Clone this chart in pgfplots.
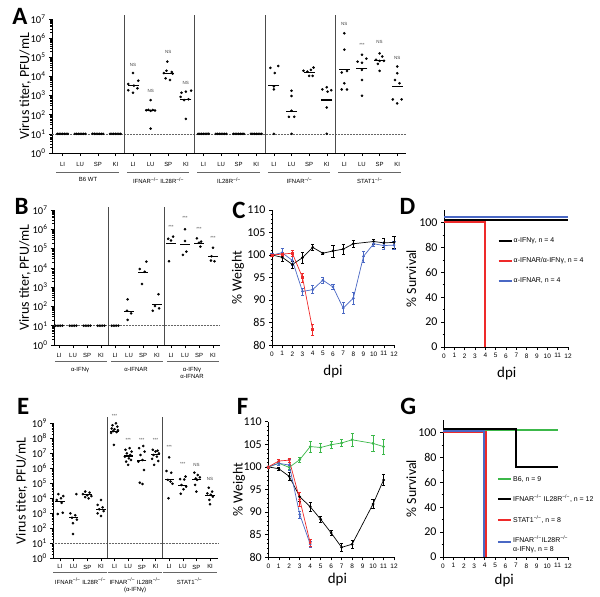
\documentclass[border=0pt]{standalone}
\usepackage{pgfplots}
\pgfplotsset{compat=1.18}
\usepackage{fontspec}
\setmainfont{Carlito}
\newfontfamily\arial{Liberation Sans}
\newcommand{\ko}{\textsuperscript{−/−}}
\definecolor{cred}{HTML}{EE2A2A}
\definecolor{cblue}{HTML}{4A68C4}
\definecolor{cgreen}{HTML}{3CB84A}
\pgfkeys{/pgf/number format/assume math mode=true}
\tikzset{
  pstat/.style={font=\arial\fontsize{4.5}{4.5}\selectfont, text=black!75},
  pgrp/.style={font=\arial\fontsize{6}{7}\selectfont, align=center, anchor=north},
  psep/.style={line width=0.7bp, black!70},
  plod/.style={densely dotted, line width=0.5bp, black!60},
  pgline/.style={line width=0.5bp, black!60},
  pletter/.style={font=\bfseries\fontsize{25}{25}\selectfont},
}
\begin{document}
\begin{tikzpicture}
\path[use as bounding box] (0,0) rectangle (600bp,-597bp);

% ---------------- A ----------------
\begin{axis}[at={(52bp,-153bp)}, anchor=south west, scale only axis,
  width=354bp, height=134bp, clip=false,
  axis lines=left, axis line style={-, line width=0.7bp},
  tick align=outside, major tick length=3bp, minor tick length=1.5bp,
  tick style={line width=0.5bp, black},
  ymode=log, ymin=1, ymax=1e7, xmin=-0.6, xmax=19.5,
  ytick={1,10,100,1000,10000,100000,1000000,10000000},
  yticklabels={10\textsuperscript{0},10\textsuperscript{1},10\textsuperscript{2},10\textsuperscript{3},10\textsuperscript{4},10\textsuperscript{5},10\textsuperscript{6},10\textsuperscript{7}},
  xtick={0,...,19},
  xticklabels={LI,LU,SP,KI,LI,LU,SP,KI,LI,LU,SP,KI,LI,LU,SP,KI,LI,LU,SP,KI},
  xticklabel style={font=\arial\fontsize{6}{6}\selectfont, yshift=-3bp},
  yticklabel style={font=\fontsize{10.5}{10}\selectfont},
  ylabel={Virus titer, PFU/mL},
  ylabel style={font=\fontsize{14}{14}\selectfont, anchor=center, at={(axis description cs:-0.076,0.5)}}]
\addplot[only marks, mark=*, mark size=1.1bp, black] coordinates {
 (-0.3,10)(-0.2,10)(-0.1,10)(0,10)(0.1,10)(0.2,10)(0.3,10)
 (0.7,10)(0.8,10)(0.9,10)(1,10)(1.1,10)(1.2,10)(1.3,10)
 (1.7,10)(1.8,10)(1.9,10)(2,10)(2.1,10)(2.2,10)(2.3,10)
 (2.7,10)(2.8,10)(2.9,10)(3,10)(3.1,10)(3.2,10)(3.3,10)
 (7.7,10)(7.8,10)(7.9,10)(8,10)(8.1,10)(8.2,10)(8.3,10)
 (8.7,10)(8.8,10)(8.9,10)(9,10)(9.1,10)(9.2,10)(9.3,10)
 (9.7,10)(9.8,10)(9.9,10)(10,10)(10.1,10)(10.2,10)(10.3,10)
 (10.7,10)(10.8,10)(10.9,10)(11,10)(11.1,10)(11.2,10)(11.3,10)
 (4,1.5e4)(4.3,6e3)(3.73,4e3)(4.05,3.3e3)(4.25,2.4e3)(3.73,1.9e3)(4,1.4e3)
 (5,580)(4.75,170)(4.87,180)(5,160)(5.12,175)(5.25,165)(5,19)
 (5.95,6e4)(5.9,2e4)(6.2,1.7e4)(5.75,1.5e4)(6.25,1.4e4)(5.85,8e3)(6.1,6.5e3)
 (6.75,1.4e3)(7,1.6e3)(7.3,1.8e3)(6.7,850)(7.15,650)(6.9,580)(7,60)
 (11.8,2.8e4)(12.25,3.5e4)(12.05,1.5e4)(12,3e3)(12,2.1e3)(12,10)
 (13,1.8e3)(13,950)(13,160)(12.85,78)(13.15,78)(13,10)
 (13.68,2e4)(13.9,1.8e4)(14.1,2.2e4)(14.25,2.9e4)(14,1.07e4)(14.2,1.07e4)
 (15,2.7e3)(14.75,2.1e3)(15.25,1.9e3)(15.05,1.6e3)(15,240)(15,10)
 (16,1.8e6)(16,2.5e5)(15.85,1.6e4)(16.15,1.9e4)(16,4.4e3)(15.85,2.1e3)(16.15,2.1e3)
 (17,1.35e5)(16.75,5.9e4)(17,5.2e4)(17.25,8.5e4)(17,2.2e4)(17,6.5e3)(17,980)
 (18,1.6e5)(18.15,1.1e5)(17.8,7.4e4)(18,6.5e4)(18.25,6.5e4)(17.9,4.5e4)(18,1.95e4)
 (19,3.3e4)(19,1.46e4)(18.87,6.5e3)(19.13,4.4e3)(18.75,630)(19.25,630)(19,390)
};
\addplot[only marks, mark=-, mark size=5.5bp, black, mark options={line width=1.1bp}] coordinates {
 (4,3.4e3)(5,170)(6,1.5e4)(7,650)(12,3.3e3)(13,155)(14,1.6e4)(15,590)
 (16,2.2e4)(17,2.5e4)(18,6.5e4)(19,2.9e3)};
\draw[plod] (axis cs:-0.6,10) -- (axis cs:19.5,10);
\draw[psep] (axis cs:3.5,1) -- (axis cs:3.5,1.6e7);
\draw[psep] (axis cs:7.5,1) -- (axis cs:7.5,1.6e7);
\draw[psep] (axis cs:11.5,1) -- (axis cs:11.5,1.6e7);
\draw[psep] (axis cs:15.5,1) -- (axis cs:15.5,1.6e7);
\node[pstat] at (axis cs:4,4e4) {NS};
\node[pstat] at (axis cs:5,1.7e3) {NS};
\node[pstat] at (axis cs:6,1.9e5) {NS};
\node[pstat] at (axis cs:7,4.4e3) {NS};
\node[pstat] at (axis cs:16,5.5e6) {NS};
\node[pstat] at (axis cs:17,4.3e5) {***};
\node[pstat] at (axis cs:18,6e5) {NS};
\node[pstat] at (axis cs:19,8.9e4) {NS};
\draw[pgline] ([yshift=-19.5bp]axis cs:-0.35,1) -- ([yshift=-19.5bp]axis cs:3.2,1);
\draw[pgline] ([yshift=-19.5bp]axis cs:3.65,1) -- ([yshift=-19.5bp]axis cs:7.2,1);
\draw[pgline] ([yshift=-19.5bp]axis cs:7.65,1) -- ([yshift=-19.5bp]axis cs:11.2,1);
\draw[pgline] ([yshift=-19.5bp]axis cs:11.65,1) -- ([yshift=-19.5bp]axis cs:15.2,1);
\draw[pgline] ([yshift=-19.5bp]axis cs:15.65,1) -- ([yshift=-19.5bp]axis cs:19.2,1);
\node[pgrp] at ([yshift=-21bp]axis cs:1.45,1) {B6 WT};
\node[pgrp] at ([yshift=-21bp]axis cs:5.45,1) {IFNAR\ko{} IL28R\ko};
\node[pgrp] at ([yshift=-21bp]axis cs:9.45,1) {IL28R\ko};
\node[pgrp] at ([yshift=-21bp]axis cs:13.45,1) {IFNAR\ko};
\node[pgrp] at ([yshift=-21bp]axis cs:17.45,1) {STAT1\ko};
\end{axis}

% ---------------- B ----------------
\begin{axis}[at={(54bp,-345bp)}, anchor=south west, scale only axis,
  width=166bp, height=135bp, clip=false,
  axis lines=left, axis line style={-, line width=0.7bp},
  tick align=outside, major tick length=3bp, minor tick length=1.5bp,
  tick style={line width=0.5bp, black},
  ymode=log, ymin=1, ymax=1e7, xmin=-0.36, xmax=11.5,
  ytick={1,10,100,1000,10000,100000,1000000,10000000},
  yticklabels={10\textsuperscript{0},10\textsuperscript{1},10\textsuperscript{2},10\textsuperscript{3},10\textsuperscript{4},10\textsuperscript{5},10\textsuperscript{6},10\textsuperscript{7}},
  xtick={0,...,11},
  xticklabels={LI,LU,SP,KI,LI,LU,SP,KI,LI,LU,SP,KI},
  xticklabel style={font=\arial\fontsize{6}{6}\selectfont, yshift=-2bp},
  yticklabel style={font=\fontsize{10.5}{10}\selectfont},
  ylabel={Virus titer, PFU/mL},
  ylabel style={font=\fontsize{14}{14}\selectfont, anchor=center, at={(axis description cs:-0.175,0.5)}}]
\addplot[only marks, mark=*, mark size=1.1bp, black] coordinates {
 (-0.24,10)(-0.08,10)(0.08,10)(0.24,10)
 (0.76,10)(0.92,10)(1.08,10)(1.24,10)
 (1.76,10)(1.92,10)(2.08,10)(2.24,10)
 (2.76,10)(2.92,10)(3.08,10)(3.24,10)
 (3.76,10)(3.92,10)(4.08,10)(4.24,10)
 (4.9,235)(4.85,60)(5.15,44)(4.9,20)
 (6.24,2.1e4)(5.76,8.7e3)(6.12,6.3e3)(5.93,1.45e3)
 (7.1,430)(6.85,105)(6.7,60)(7.15,80)
 (7.8,3.2e5)(8.15,4.2e5)(8,2.6e5)(7.85,2.2e4)
 (9,1e6)(9,2.5e5)(9.1,6.9e4)(8.85,4.7e4)
 (9.85,3.4e5)(10.15,2.3e5)(10,2e5)(10.1,1.26e5)
 (11,1.1e5)(10.9,4e4)(10.85,2.4e4)(11.1,2.2e4)
};
\addplot[only marks, mark=-, mark size=4.6bp, black, mark options={line width=1.1bp}] coordinates {
 (5,55)(6,6e3)(7,125)(8,1.85e5)(9,1.65e5)(10,1.9e5)(11,4e4)};
\draw[plod] (axis cs:-0.36,10) -- (axis cs:11.5,10);
\draw[psep] (axis cs:3.5,1) -- (axis cs:3.5,1.4e7);
\draw[psep] (axis cs:7.5,1) -- (axis cs:7.5,1.4e7);
\node[pstat] at (axis cs:8,1.4e6) {***};
\node[pstat] at (axis cs:9,3.7e6) {***};
\node[pstat] at (axis cs:10,1.1e6) {***};
\node[pstat] at (axis cs:11,3.6e5) {***};
\draw[pgline] ([yshift=-16.7bp]axis cs:-0.3,1) -- ([yshift=-16.7bp]axis cs:3.4,1);
\draw[pgline] ([yshift=-16.7bp]axis cs:3.7,1) -- ([yshift=-16.7bp]axis cs:7.4,1);
\draw[pgline] ([yshift=-16.7bp]axis cs:7.7,1) -- ([yshift=-16.7bp]axis cs:11.4,1);
\node[pgrp] at ([yshift=-19bp]axis cs:1.5,1) {α-IFNγ};
\node[pgrp] at ([yshift=-19bp]axis cs:5.5,1) {α-IFNAR};
\node[pgrp] at ([yshift=-19bp]axis cs:9.5,1) {α-IFNγ\\α-IFNAR};
\end{axis}

% ---------------- C ----------------
\begin{axis}[at={(272bp,-345bp)}, anchor=south west, scale only axis,
  width=122bp, height=135bp, clip=false,
  axis lines=left, axis line style={-, line width=0.7bp},
  tick align=outside, major tick length=3bp, minor tick length=1.5bp,
  tick style={line width=0.5bp, black},
  xmin=0, xmax=12, xtick={0,...,12},
  ymin=80, ymax=110, ytick={80,85,...,110}, minor y tick num=4,
  xticklabel style={font=\arial\fontsize{6.5}{6.5}\selectfont},
  yticklabel style={font=\fontsize{12}{12}\selectfont},
  xlabel={dpi}, ylabel={\% Weight},
  xlabel style={font=\fontsize{15}{15}\selectfont, anchor=center, at={(axis description cs:0.5,-0.198)}},
  ylabel style={font=\fontsize{14}{14}\selectfont, anchor=center, at={(axis description cs:-0.279,0.5)}}]
\addplot[black, mark=*, mark size=1bp, line width=0.7bp,
  error bars/.cd, y dir=both, y explicit, error bar style={line width=0.5bp},
  error mark options={rotate=90, mark size=1.6bp, line width=0.5bp}] coordinates {
 (0,100)+-(0,0.3) (1,99.5)+-(0,0.8) (2,97.9)+-(0,0.8) (3,99.4)+-(0,1.3)
 (4,101.7)+-(0,0.6) (5,100.4)+-(0,0.3) (6,100.9)+-(0,1.3) (7,101.3)+-(0,1.2)
 (8,102.5)+-(0,0.7) (10,103)+-(0,0.5) (11,102.7)+-(0,1) (12,102.8)+-(0,1.4)};
\addplot[cblue, mark=*, mark size=1bp, line width=0.7bp,
  error bars/.cd, y dir=both, y explicit, error bar style={line width=0.5bp},
  error mark options={rotate=90, mark size=1.6bp, line width=0.5bp}] coordinates {
 (0,100)+-(0,0.3) (1,100.5)+-(0,1) (2,98.8)+-(0,1) (3,91.9)+-(0,0.8)
 (4,92.3)+-(0,0.9) (5,94.4)+-(0,0.7) (6,92.9)+-(0,0.5) (7,88.2)+-(0,1.2)
 (8,90.4)+-(0,1.3) (9,99.7)+-(0,1.2) (10,102.5)+-(0,0.6) (11,102.1)+-(0,0.8)
 (12,102.2)+-(0,0.9)};
\addplot[cred, mark=square*, mark size=1bp, line width=0.7bp,
  error bars/.cd, y dir=both, y explicit, error bar style={line width=0.5bp},
  error mark options={rotate=90, mark size=1.6bp, line width=0.5bp}] coordinates {
 (0,100)+-(0,0.2) (1,100.2)+-(0,0.4) (2,100.4)+-(0,0.6) (3,95)+-(0,1)
 (4,83.4)+-(0,1.2)};
\end{axis}

% ---------------- D ----------------
\begin{axis}[at={(444bp,-347bp)}, anchor=south west, scale only axis,
  width=124bp, height=137bp, clip=false,
  axis lines=left, axis line style={-, line width=0.7bp},
  tick align=outside, major tick length=3bp, minor tick length=1.5bp,
  tick style={line width=0.5bp, black},
  xmin=0, xmax=12, xtick={0,...,12},
  ymin=0, ymax=110, ytick={0,20,...,100}, minor y tick num=1,
  xticklabel style={font=\arial\fontsize{6.5}{6.5}\selectfont},
  yticklabel style={font=\fontsize{12}{12}\selectfont},
  xlabel={dpi}, ylabel={\% Survival},
  xlabel style={font=\fontsize{15}{15}\selectfont, anchor=center, at={(axis description cs:0.506,-0.19)}},
  ylabel style={font=\fontsize{14}{14}\selectfont, anchor=center, at={(axis description cs:-0.264,0.5)}},
  legend cell align=left,
  legend image code/.code={\draw[#1, line width=2bp] (0bp,0bp) -- (13bp,0bp);},
  legend style={at={(axis description cs:0.43,0.805)}, anchor=north west, draw=none, fill=none,
    inner sep=0pt, font=\arial\fontsize{7}{9}\selectfont, row sep=11bp, nodes={inner sep=1.2bp}}]
\addplot[black, line width=2bp, no marks] coordinates {(0,102)(12,102)};
\addlegendentry{α-IFNγ, n = 4}
\addplot[color=cred, line width=2bp, no marks] coordinates {(0,100)(4,100)(4,0)};
\addlegendentry{α-IFNAR/α-IFNγ, n = 4}
\addplot[cblue, line width=2bp, no marks] coordinates {(0,104)(12,104)};
\addlegendentry{α-IFNAR, n = 4}
\end{axis}

% ---------------- E ----------------
\begin{axis}[at={(53.3bp,-558.3bp)}, anchor=south west, scale only axis,
  width=164.7bp, height=135bp, clip=false,
  axis lines=left, axis line style={-, line width=0.7bp},
  tick align=outside, major tick length=3bp, minor tick length=1.5bp,
  tick style={line width=0.5bp, black},
  ymode=log, ymin=1, ymax=1e9, xmin=-0.49, xmax=11.58,
  ytick={1,10,100,1000,10000,100000,1000000,10000000,100000000,1000000000},
  yticklabels={10\textsuperscript{0},10\textsuperscript{1},10\textsuperscript{2},10\textsuperscript{3},10\textsuperscript{4},10\textsuperscript{5},10\textsuperscript{6},10\textsuperscript{7},10\textsuperscript{8},10\textsuperscript{9}},
  xtick={0,...,11},
  xticklabels={LI,LU,SP,KI,LI,LU,SP,KI,LI,LU,SP,KI},
  xticklabel style={font=\arial\fontsize{6}{6}\selectfont},
  yticklabel style={font=\fontsize{10.5}{10}\selectfont},
  ylabel={Virus titer, PFU/mL},
  ylabel style={font=\fontsize{14}{14}\selectfont, anchor=center, at={(axis description cs:-0.192,0.5)}}]
\addplot[only marks, mark=*, mark size=1.1bp, black] coordinates {
 (-0.12,1.9e4)(0.24,1.4e4)(0.07,1e4)(-0.24,7.7e3)(0.12,5e3)(-0.17,900)(0.2,1.1e3)
 (1.2,1.9e4)(0.76,1e3)(1.12,750)(0.88,500)(1.24,380)(0.95,220)(0.95,42)
 (1.85,2.8e4)(2.17,2.4e4)(1.68,1.9e4)(2,1.6e4)(2.3,1.4e4)(1.85,1.2e4)(2.1,1e4)
 (3,7.7e3)(2.76,3.6e3)(3.12,2.5e3)(2.88,1.85e3)(3.2,1.4e3)(2.76,1e3)(3,660)
 (4.1,1e9)(3.85,7.5e8)(4.2,6e8)(3.8,4.5e8)(4,4e8)(4.25,3.5e8)(3.9,3e8)(4.15,2.6e8)(3.75,2.3e8)(3.95,3.6e7)
 (5.1,2.2e7)(4.8,1.7e7)(5.25,1.3e7)(4.9,1e7)(5.15,7.7e6)(4.75,6e6)(5.05,4.6e6)(5.2,3.6e6)(4.85,2.8e6)(5,1.7e6)
 (6.1,3.1e7)(5.8,2.2e7)(6.2,1.3e7)(5.9,7.7e6)(6.05,3.6e6)(5.75,2.8e6)(6.15,7.7e5)(5.85,1.1e5)(6.05,9e4)
 (6.8,1.7e7)(7.15,1.5e7)(7,1.3e7)(7.25,1e7)(6.85,7.7e6)(7.1,6e6)(6.75,4.3e6)(7.2,3.1e6)(6.9,1.7e6)
 (8,5.4e6)(7.8,6.6e5)(8.15,5.1e5)(7.9,1.7e5)(8.1,1.3e5)(8.25,9.3e4)(7.95,1e4)
 (9.2,2.8e5)(8.8,1.9e5)(9.1,1.8e5)(8.9,7.7e4)(9.25,6e4)(9.05,4e4)(8.85,2e4)
 (9.85,5.1e5)(10.1,3.6e5)(10.25,2.5e5)(9.95,2.1e5)(10.05,1.7e5)(9.9,7.8e4)(10,2.8e4)
 (10.9,5.1e4)(11.15,2.8e4)(10.8,2.1e4)(11.05,1.7e4)(11.2,1.3e4)(10.95,7.8e3)(11,4e3)
};
\addplot[only marks, mark=-, mark size=4.6bp, black, mark options={line width=1.1bp}] coordinates {
 (0,6e3)(1,540)(2,1.9e4)(3,1.7e3)(4,2.8e8)(5,6.6e6)(6,3.2e6)(7,8.5e6)
 (8,1.9e5)(9,7e4)(10,1.9e5)(11,1.5e4)};
\draw[plod] (axis cs:-0.49,10) -- (axis cs:11.58,10);
\draw[psep] (axis cs:3.5,1) -- (axis cs:3.5,2.8e9);
\draw[psep] (axis cs:7.5,1) -- (axis cs:7.5,2.8e9);
\node[pstat] at (axis cs:4,3.2e9) {***};
\node[pstat] at (axis cs:5,7.7e7) {***};
\node[pstat] at (axis cs:6,7.7e7) {***};
\node[pstat] at (axis cs:7,7.7e7) {***};
\node[pstat] at (axis cs:8,2.8e7) {***};
\node[pstat] at (axis cs:9,2.1e6) {***};
\node[pstat] at (axis cs:10,1.7e6) {NS};
\node[pstat] at (axis cs:11,1.9e5) {NS};
\draw[pgline] ([yshift=-14.4bp]axis cs:-0.5,1) -- ([yshift=-14.4bp]axis cs:3.45,1);
\draw[pgline] ([yshift=-14.4bp]axis cs:3.5,1) -- ([yshift=-14.4bp]axis cs:7.45,1);
\draw[pgline] ([yshift=-14.4bp]axis cs:7.55,1) -- ([yshift=-14.4bp]axis cs:11.5,1);
\node[pgrp] at ([yshift=-16.5bp]axis cs:1.5,1) {IFNAR\ko{} IL28R\ko};
\node[pgrp] at ([yshift=-16.5bp]axis cs:5.5,1) {IFNAR\ko{} IL28R\ko\\(α-IFNγ)};
\node[pgrp] at ([yshift=-16.5bp]axis cs:9.5,1) {STAT1\ko};
\end{axis}

% ---------------- F ----------------
\begin{axis}[at={(268.3bp,-557.3bp)}, anchor=south west, scale only axis,
  width=125.7bp, height=135.6bp, clip=false,
  axis lines=left, axis line style={-, line width=0.7bp},
  tick align=outside, major tick length=3bp, minor tick length=1.5bp,
  tick style={line width=0.5bp, black},
  xmin=0, xmax=12, xtick={0,...,12},
  ymin=80, ymax=110, ytick={80,85,...,110}, minor y tick num=4,
  xticklabel style={font=\arial\fontsize{6.5}{6.5}\selectfont},
  yticklabel style={font=\fontsize{12}{12}\selectfont},
  xlabel={dpi}, ylabel={\% Weight},
  xlabel style={font=\fontsize{15}{15}\selectfont, anchor=center, at={(axis description cs:0.55,-0.167)}},
  ylabel style={font=\fontsize{14}{14}\selectfont, anchor=center, at={(axis description cs:-0.233,0.5)}}]
\addplot[cgreen, mark=*, mark size=1bp, line width=0.7bp,
  error bars/.cd, y dir=both, y explicit, error bar style={line width=0.5bp},
  error mark options={rotate=90, mark size=1.6bp, line width=0.5bp}] coordinates {
 (0,100)+-(0,0.2) (1,100.8)+-(0,0.5) (2,99.9)+-(0,0.5) (3,101.6)+-(0,0.5)
 (4,104.5)+-(0,1.2) (5,104.3)+-(0,1) (6,104.9)+-(0,0.7) (7,105.3)+-(0,0.8)
 (8,106)+-(0,1.4) (10,105.2)+-(0,1.8) (11,104.5)+-(0,1.7)};
\addplot[black, mark=*, mark size=1bp, line width=0.7bp,
  error bars/.cd, y dir=both, y explicit, error bar style={line width=0.5bp},
  error mark options={rotate=90, mark size=1.6bp, line width=0.5bp}] coordinates {
 (0,100)+-(0,0.2) (1,99.6)+-(0,0.4) (2,97.9)+-(0,0.9) (3,93.4)+-(0,0.9)
 (4,91.2)+-(0,1) (5,88.4)+-(0,0.7) (6,85.4)+-(0,0.6) (7,82.2)+-(0,0.8)
 (8,82.9)+-(0,0.8) (10,91.8)+-(0,1) (11,97.1)+-(0,1.2)};
\addplot[cblue, mark=*, mark size=1bp, line width=0.7bp,
  error bars/.cd, y dir=both, y explicit, error bar style={line width=0.5bp},
  error mark options={rotate=90, mark size=1.6bp, line width=0.5bp}] coordinates {
 (0,100)+-(0,0.2) (1,100.8)+-(0,0.4) (2,100.4)+-(0,1.2) (3,89.5)+-(0,0.8)
 (4,82.9)+-(0,0.6)};
\addplot[cred, mark=*, mark size=1bp, line width=0.7bp,
  error bars/.cd, y dir=both, y explicit, error bar style={line width=0.5bp},
  error mark options={rotate=90, mark size=1.6bp, line width=0.5bp}] coordinates {
 (0,100)+-(0,0.2) (1,101.3)+-(0,0.3) (2,101.5)+-(0,0.5) (3,92.8)+-(0,1.5)
 (4,83.2)+-(0,0.8)};
\end{axis}

% ---------------- G ----------------
\begin{axis}[at={(443bp,-557bp)}, anchor=south west, scale only axis,
  width=125bp, height=137bp, clip=false,
  axis lines=left, axis line style={-, line width=0.7bp},
  tick align=outside, major tick length=3bp, minor tick length=1.5bp,
  tick style={line width=0.5bp, black},
  xmin=0, xmax=12, xtick={0,...,12},
  ymin=0, ymax=110, ytick={0,20,...,100}, minor y tick num=1,
  xticklabel style={font=\arial\fontsize{6.5}{6.5}\selectfont},
  yticklabel style={font=\fontsize{12}{12}\selectfont},
  xlabel={dpi}, ylabel={\% Survival},
  xlabel style={font=\fontsize{15}{15}\selectfont, anchor=center, at={(axis description cs:0.49,-0.171)}},
  ylabel style={font=\fontsize{14}{14}\selectfont, anchor=center, at={(axis description cs:-0.253,0.5)}},
  legend cell align=left,
  legend image code/.code={\draw[#1, line width=2bp] (0bp,0bp) -- (13bp,0bp);},
  legend style={at={(axis description cs:0.43,0.60)}, anchor=north west, draw=none, fill=none,
    inner sep=0pt, font=\arial\fontsize{7}{8.5}\selectfont, row sep=10bp, nodes={inner sep=1.2bp}}]
\addplot[cgreen, line width=2bp, no marks] coordinates {(0,102)(11,102)};
\addlegendentry{B6, n = 9}
\addplot[black, line width=2bp, no marks] coordinates {(0,103)(7,103)(7,72)(11,72)};
\addlegendentry{IFNAR\ko{} IL28R\ko, n = 12}
\addplot[cred, line width=2bp, no marks] coordinates {(0,100)(4.1,100)(4.1,0)};
\addlegendentry{STAT1\ko, n = 8}
\addplot[cblue, line width=2bp, no marks] coordinates {(0,101)(3.95,101)(3.95,0)};
\addlegendentry{\begin{tabular}{@{}l@{}}IFNAR\ko IL28R\ko\\α-IFNγ, n = 8\end{tabular}}
\end{axis}

% panel letters
\node[pletter] at (20bp,-16.7bp) {A};
\node[pletter] at (21.7bp,-206bp) {B};
\node[pletter] at (239bp,-210bp) {C};
\node[pletter] at (407.5bp,-206.7bp) {D};
\node[pletter] at (23.3bp,-406.7bp) {E};
\node[pletter] at (242.5bp,-406.7bp) {F};
\node[pletter] at (408.3bp,-406.7bp) {G};
\end{tikzpicture}
\end{document}
